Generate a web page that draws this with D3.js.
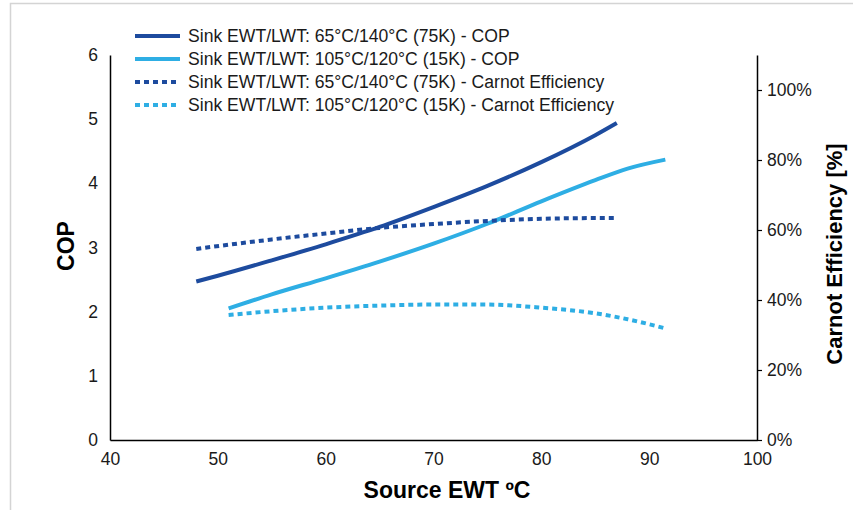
<!DOCTYPE html>
<html>
<head>
<meta charset="utf-8">
<script src="https://cdn.jsdelivr.net/npm/d3@7"></script>
<style>
  body { margin: 0; background: #fff; }
  svg { display: block; font-family: "Liberation Sans", Arial, sans-serif; }
</style>
</head>
<body>
<div id="chart"></div>
<script>
// Source EWT (°C) and values
const darkX = [48, 50, 55, 60, 65, 70, 75, 80, 85, 87];
const darkCop = [2.47, 2.56, 2.80, 3.05, 3.32, 3.63, 3.96, 4.33, 4.75, 4.94];
const darkCarnotX = [48, 55, 60, 65, 70, 75, 80, 85, 87];
const darkCarnot = [0.546, 0.573, 0.590, 0.606, 0.617, 0.626, 0.632, 0.634, 0.634];

const lightX = [51, 55, 60, 65, 70, 75, 80, 85, 88, 91.5];
const lightCop = [2.05, 2.27, 2.52, 2.78, 3.06, 3.37, 3.72, 4.05, 4.23, 4.37];
const lightCarnot = [0.357, 0.368, 0.378, 0.384, 0.387, 0.387, 0.378, 0.362, 0.345, 0.319];

const xTicks = [40, 50, 60, 70, 80, 90, 100];
const copTicks = [0, 1, 2, 3, 4, 5, 6];
const effTicks = [0, 0.2, 0.4, 0.6, 0.8, 1.0];

const legendLabels = [
  'Sink EWT/LWT: 65°C/140°C (75K) - COP',
  'Sink EWT/LWT: 105°C/120°C (15K) - COP',
  'Sink EWT/LWT: 65°C/140°C (75K) - Carnot Efficiency',
  'Sink EWT/LWT: 105°C/120°C (15K) - Carnot Efficiency'
];

const darkBlue = '#1d4b9e';
const lightBlue = '#2eaee4';

const width = 853;
const height = 510;
const margin = { left: 110, right: 96, top: 55, bottom: 70 };

const svg = d3.select('#chart').append('svg')
  .attr('width', width)
  .attr('height', height);

// thin frame seen at the top/left edge
svg.append('path')
  .attr('d', `M10.5,${height} V3.5 H${width}`)
  .attr('fill', 'none')
  .attr('stroke', '#d4d4d4')
  .attr('stroke-width', 1.5);

const x = d3.scaleLinear().domain([40, 100]).range([margin.left, width - margin.right]);
const yCop = d3.scaleLinear().domain([0, 6]).range([height - margin.bottom, margin.top]);
const yEff = d3.scaleLinear().domain([0, 1.1]).range([height - margin.bottom, margin.top]);

// axes
svg.append('g')
  .attr('transform', `translate(0, ${height - margin.bottom})`)
  .call(d3.axisBottom(x).tickValues(xTicks).tickSize(0).tickPadding(13))
  .call(g => g.select('.domain').attr('stroke', '#000').attr('stroke-width', 1.5))
  .call(g => g.selectAll('text').attr('font-size', 17.5).attr('fill', '#1a1a1a'));

svg.append('g')
  .attr('transform', `translate(${margin.left}, 0)`)
  .call(d3.axisLeft(yCop).tickValues(copTicks).tickSize(0).tickPadding(12)
    .tickFormat(d3.format('d')))
  .call(g => g.select('.domain').attr('stroke', '#000').attr('stroke-width', 1.5))
  .call(g => g.selectAll('text').attr('font-size', 17.5).attr('fill', '#1a1a1a'));

svg.append('g')
  .attr('transform', `translate(${width - margin.right}, 0)`)
  .call(d3.axisRight(yEff).tickValues(effTicks).tickSizeInner(5).tickSizeOuter(0).tickPadding(5)
    .tickFormat(d3.format('.0%')))
  .call(g => g.select('.domain').attr('stroke', '#000').attr('stroke-width', 1.5))
  .call(g => g.selectAll('line').attr('stroke', '#000').attr('stroke-width', 1.2))
  .call(g => g.selectAll('text').attr('font-size', 17.5).attr('fill', '#1a1a1a'));

// axis titles
svg.append('text')
  .attr('x', 447)
  .attr('y', 498)
  .attr('text-anchor', 'middle')
  .attr('font-size', 23)
  .attr('font-weight', 'bold')
  .text('Source EWT ºC');

svg.append('text')
  .attr('transform', `translate(74, 246) rotate(-90)`)
  .attr('text-anchor', 'middle')
  .attr('font-size', 23)
  .attr('font-weight', 'bold')
  .text('COP');

svg.append('text')
  .attr('transform', `translate(842, 254) rotate(-90)`)
  .attr('text-anchor', 'middle')
  .attr('font-size', 22)
  .attr('font-weight', 'bold')
  .text('Carnot Efficiency [%]');

// series
const curve = d3.curveMonotoneX;
const series = [
  { xs: darkX, ys: darkCop, scale: yCop, color: darkBlue, dash: null },
  { xs: lightX, ys: lightCop, scale: yCop, color: lightBlue, dash: null },
  { xs: darkCarnotX, ys: darkCarnot, scale: yEff, color: darkBlue, dash: '5,4' },
  { xs: lightX, ys: lightCarnot, scale: yEff, color: lightBlue, dash: '5,4' }
];

series.forEach(s => {
  const line = d3.line()
    .x((d, i) => x(s.xs[i]))
    .y(d => s.scale(d))
    .curve(curve);
  svg.append('path')
    .datum(s.ys)
    .attr('d', line)
    .attr('fill', 'none')
    .attr('stroke', s.color)
    .attr('stroke-width', 4)
    .attr('stroke-dasharray', s.dash);
});

// legend
const legend = svg.append('g').attr('transform', 'translate(135, 36)');
const legendItems = legend.selectAll('g')
  .data(legendLabels)
  .join('g')
  .attr('transform', (d, i) => `translate(0, ${i * 23})`);

legendItems.append('line')
  .attr('x1', 0)
  .attr('x2', 45)
  .attr('stroke', (d, i) => series[i].color)
  .attr('stroke-width', 4)
  .attr('stroke-dasharray', (d, i) => series[i].dash);

legendItems.append('text')
  .attr('x', 53)
  .attr('dy', '0.35em')
  .attr('font-size', 17.6)
  .attr('fill', '#1a1a1a')
  .text(d => d);
</script>
</body>
</html>
